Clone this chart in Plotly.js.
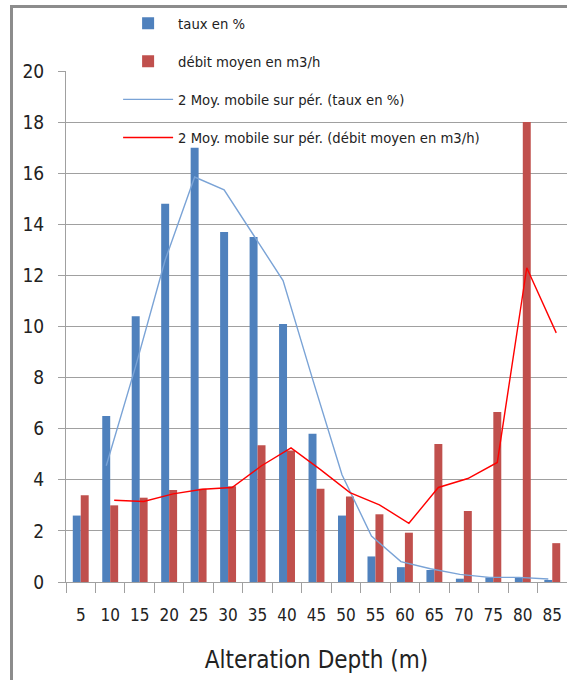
<!DOCTYPE html>
<html>
<head>
<meta charset="utf-8">
<script src="https://cdn.plot.ly/plotly-3.0.1.min.js"></script>
<style>
  html, body { margin: 0; padding: 0; background: #ffffff; }
  #wrap { position: relative; width: 567px; height: 680px; overflow: hidden; }
  #chart { position: absolute; left: 0; top: 0; width: 567px; height: 680px; }
  #frame { position: absolute; left: 10px; top: 5px; width: 600px; height: 700px;
           border-top: 3px solid #8c8c8c; border-left: 3px solid #8c8c8c; pointer-events: none; }
</style>
</head>
<body>
<div id="wrap">
  <div id="chart"></div>
  <div id="frame"></div>
</div>
<script>
// Categories (alteration depth in m)
const depths = ['5','10','15','20','25','30','35','40','45','50','55','60','65','70','75','80','85'];

// Series values
const tauxPct = [2.6, 6.5, 10.4, 14.8, 17.0, 13.7, 13.5, 10.1, 5.8, 2.6, 1.0, 0.58, 0.47, 0.13, 0.18, 0.18, 0.08];
const debitMoyen = [3.4, 3.0, 3.3, 3.6, 3.65, 3.75, 5.35, 5.15, 3.65, 3.35, 2.65, 1.93, 5.4, 2.78, 6.65, 18.0, 1.52];

// 2-period moving averages (from depth 10 onward)
const maTaux = [4.55, 8.45, 12.6, 15.85, 15.35, 13.6, 11.8, 7.95, 4.2, 1.8, 0.8, 0.52, 0.3, 0.18, 0.18, 0.12];
const maDebit = [3.2, 3.15, 3.45, 3.63, 3.7, 4.55, 5.25, 4.4, 3.5, 3.02, 2.3, 3.7, 4.05, 4.68, 12.3, 9.75];

// Legend labels
const labels = ['taux en %', 'débit moyen en m3/h',
                '2 Moy. mobile sur pér. (taux en %)',
                '2 Moy. mobile sur pér. (débit moyen en m3/h)'];

const BAR_GAP = 0.46;
const half = (1 - BAR_GAP) / 4;   // centre offset of each bar inside its group
const maIdx = depths.slice(1).map((d, i) => i + 1);

const FONT = '"DejaVu Sans Condensed", "Liberation Sans Narrow", "Open Sans", sans-serif';
const GRID = '#a0a0a0';
const TXT = '#222222';

const traces = [
  { type: 'bar', x: depths, y: tauxPct, name: labels[0], legendgroup: 'a',
    marker: { color: '#4f81bd' } },
  { type: 'bar', x: depths, y: debitMoyen, name: labels[1], legendgroup: 'b',
    marker: { color: '#c0504d' } },
  { type: 'scatter', mode: 'lines', xaxis: 'x2', x: maIdx.map(i => i - half), y: maTaux,
    name: labels[2], legendgroup: 'c', line: { color: '#7aa3d6', width: 1.4 } },
  { type: 'scatter', mode: 'lines', xaxis: 'x2', x: maIdx.map(i => i + half), y: maDebit,
    name: labels[3], legendgroup: 'd', line: { color: '#ff0000', width: 1.4 } }
];

const layout = {
  width: 567, height: 680,
  margin: { l: 66, r: 0, t: 71, b: 98 },
  paper_bgcolor: '#ffffff', plot_bgcolor: '#ffffff',
  font: { family: FONT, color: TXT },
  barmode: 'group', bargap: BAR_GAP, bargroupgap: 0,
  showlegend: true,
  legend: {
    x: 0.104, xanchor: 'left', y: 1.125, yanchor: 'top',
    bgcolor: 'rgba(0,0,0,0)', borderwidth: 0,
    font: { family: FONT, size: 14.7, color: TXT },
    itemwidth: 50, tracegroupgap: 16, traceorder: 'grouped'
  },
  xaxis: {
    type: 'category', categoryorder: 'array', categoryarray: depths,
    range: [-0.5, 16.5],
    showline: true, linecolor: GRID, linewidth: 1,
    ticks: 'outside', tickson: 'boundaries', ticklen: 10, tickcolor: GRID,
    tickangle: 0,
    tickfont: { family: FONT, size: 17, color: TXT },
    ticklabelstandoff: 18,
    showgrid: false,
    title: { text: 'Alteration Depth (m)', font: { family: FONT, size: 24, color: TXT }, standoff: 26 },
    fixedrange: true
  },
  xaxis2: {
    overlaying: 'x', type: 'linear', range: [-0.5, 16.5], visible: false, fixedrange: true
  },
  yaxis: {
    range: [0, 20], dtick: 2, tick0: 0,
    showline: true, linecolor: GRID, linewidth: 1,
    ticks: 'outside', ticklen: 7, tickcolor: GRID,
    showgrid: true, gridcolor: GRID, gridwidth: 1,
    zeroline: false,
    tickfont: { family: FONT, size: 19, color: TXT },
    ticklabelstandoff: 10,
    fixedrange: true
  },
  hovermode: false
};

Plotly.newPlot('chart', traces, layout, { staticPlot: true, displayModeBar: false });
</script>
</body>
</html>
